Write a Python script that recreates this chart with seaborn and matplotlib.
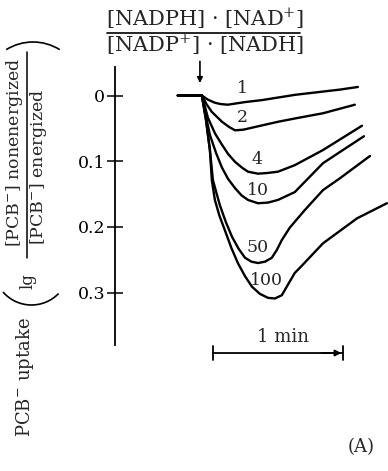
import matplotlib
matplotlib.use("Agg")
import matplotlib.pyplot as plt
import seaborn as sns
import pandas as pd
from matplotlib.patches import Arc
from matplotlib.lines import Line2D

# Time after energization (s) and PCB- uptake for each NADPH/NAD+ ratio
ratios = ["1", "2", "4", "10", "50", "100"]

t_1 = [-10.2, 0.9, 3.5, 6.9, 9.5, 12.9, 20.8, 28.6, 43.8, 56.8, 64.6, 72.9]
v_1 = [0.0, 0.0, 0.006, 0.011, 0.013, 0.014, 0.010, 0.007, -0.001, -0.006, -0.009, -0.013]

t_2 = [-10.2, 0.9, 3.0, 5.5, 10.2, 13.5, 16.2, 20.0, 24.0, 36.0, 43.8, 56.8, 71.5]
v_2 = [0.0, 0.0, 0.013, 0.025, 0.040, 0.048, 0.053, 0.052, 0.049, 0.040, 0.035, 0.027, 0.014]

t_4 = [-10.2, 0.9, 3.7, 7.0, 10.2, 13.0, 16.2, 19.5, 22.2, 26.8, 31.0, 36.0, 43.8, 56.8, 74.8]
v_4 = [0.0, 0.0, 0.034, 0.058, 0.075, 0.089, 0.101, 0.110, 0.116, 0.119, 0.118, 0.116, 0.106, 0.083, 0.046]

t_10 = [-10.2, 0.9, 2.8, 4.6, 7.5, 10.2, 13.0, 16.2, 19.2, 22.2, 26.8, 31.4, 36.0, 43.8, 50.0, 56.8, 66.0, 75.7]
v_10 = [0.0, 0.0, 0.032, 0.060, 0.088, 0.110, 0.127, 0.141, 0.152, 0.159, 0.164, 0.163, 0.159, 0.147, 0.126, 0.103, 0.083, 0.062]

t_50 = [-10.2, 0.9, 2.8, 4.6, 6.0, 9.2, 12.0, 14.8, 17.8, 20.8, 23.8, 26.8, 30.0, 33.2, 35.5, 37.8, 41.5, 48.5, 56.8, 64.6, 78.5]
v_50 = [0.0, 0.0, 0.037, 0.083, 0.129, 0.167, 0.193, 0.215, 0.233, 0.247, 0.253, 0.255, 0.253, 0.247, 0.235, 0.220, 0.201, 0.174, 0.144, 0.126, 0.092]

t_100 = [-10.2, 0.9, 2.8, 4.6, 5.5, 6.9, 9.0, 11.5, 14.5, 17.5, 20.8, 24.0, 27.7, 31.4, 34.6, 37.8, 40.6, 43.8, 46.2, 56.8, 72.5, 86.3]
v_100 = [0.0, 0.0, 0.037, 0.083, 0.129, 0.159, 0.183, 0.205, 0.232, 0.255, 0.275, 0.291, 0.302, 0.308, 0.309, 0.304, 0.288, 0.270, 0.262, 0.225, 0.187, 0.164]

y_ticks = [0, 0.1, 0.2, 0.3]
y_ticklabels = ["0", "0.1", "0.2", "0.3"]

series_t = [t_1, t_2, t_4, t_10, t_50, t_100]
series_v = [v_1, v_2, v_4, v_10, v_50, v_100]
rows = []
for r, ts, vs in zip(ratios, series_t, series_v):
    for t, v in zip(ts, vs):
        rows.append({"ratio": r, "t": t, "v": v})
df = pd.DataFrame(rows)

sns.set_style("white")
plt.rcParams["font.family"] = ["DejaVu Serif"]
plt.rcParams["mathtext.fontset"] = "dejavuserif"
plt.rcParams["lines.solid_joinstyle"] = "round"
plt.rcParams["lines.solid_capstyle"] = "round"

W, H = 388, 471
fig = plt.figure(figsize=(W / 100, H / 100), dpi=100)
fig.patch.set_facecolor("white")


def fx(x):
    return x / W


def fy(y):
    return 1 - y / H


ax = fig.add_axes([fx(115), fy(345), 273 / W, 278 / H])
ax.set_facecolor("white")

sns.lineplot(data=df, x="t", y="v", hue="ratio", hue_order=ratios,
             palette=["black"] * len(ratios), estimator=None, sort=False,
             legend=False, linewidth=1.7, ax=ax)
for line in ax.get_lines():
    line.set_solid_joinstyle("round")
    line.set_solid_capstyle("round")

ax.set_xlim(-39.2, 86.8)
ax.set_ylim(0.3798, -0.0434)
ax.set_xticks([])
ax.set_yticks(y_ticks)
ax.set_yticklabels(y_ticklabels)
ax.set_xlabel("")
ax.set_ylabel("")
for side in ["top", "right", "bottom"]:
    ax.spines[side].set_visible(False)
ax.spines["left"].set_color("black")
ax.spines["left"].set_linewidth(1.3)
ax.tick_params(axis="y", direction="inout", length=12, width=1.1,
               pad=1, labelsize=12.5, colors="black", left=True)

# Curve labels (ratio values)
label_pos = {"1": (19.8, -0.011), "2": (19.8, 0.034), "4": (26.3, 0.098),
             "10": (26.8, 0.144), "50": (26.8, 0.232), "100": (30.9, 0.281)}
for r in ratios:
    x, y = label_pos[r]
    ax.text(x, y, r, ha="center", va="center", fontsize=12.5)

# Energization marker
ax.annotate("", xy=(0, -0.019), xytext=(0, -0.052),
            arrowprops=dict(arrowstyle="-|>", lw=1.2, color="black",
                            mutation_scale=8, shrinkA=0, shrinkB=0),
            annotation_clip=False)

# Time scale bar: 1 min
ax.annotate("", xy=(66, 0.392), xytext=(6, 0.392),
            arrowprops=dict(arrowstyle="|-|, widthA=0.5, widthB=0.5", lw=1.3,
                            color="black", shrinkA=0, shrinkB=0),
            annotation_clip=False)
ax.annotate("", xy=(65.3, 0.392), xytext=(56, 0.392),
            arrowprops=dict(arrowstyle="-|>", lw=1.3, color="black",
                            mutation_scale=9, shrinkA=0, shrinkB=0),
            annotation_clip=False)
ax.text(38.3, 0.368, "1 min", ha="center", va="center", fontsize=13,
        clip_on=False)

# Ratio fraction above the plot
fig.text(fx(205), fy(19), "[NADPH] · [NAD$^{+}$]", ha="center", va="center",
         fontsize=15)
fig.add_artist(Line2D([fx(107), fx(300)], [fy(33), fy(33)], color="black",
                      lw=1.2))
fig.text(fx(205), fy(45), "[NADP$^{+}$] · [NADH]", ha="center", va="center",
         fontsize=15)

# Y axis label built from pieces
fig.text(fx(25), fy(377), "PCB$^{-}$ uptake", rotation=90, ha="center",
         va="center", fontsize=13)
fig.text(fx(28), fy(281), "lg", rotation=90, ha="center", va="center",
         fontsize=12)
fig.text(fx(15), fy(152), "[PCB$^{-}$] nonenergized", rotation=90,
         ha="center", va="center", fontsize=12.5)
fig.add_artist(Line2D([fx(27), fx(27)], [fy(258), fy(52)], color="black",
                      lw=1.1))
fig.text(fx(39), fy(167), "[PCB$^{-}$] energized", rotation=90, ha="center",
         va="center", fontsize=12.5)
fig.add_artist(Arc((31.5 / 100, 203.7 / 100), 2 * 0.377, 2 * 0.377,
                   theta1=221, theta2=316, transform=fig.dpi_scale_trans,
                   color="black", lw=1.2))
fig.add_artist(Arc((33 / 100, 378.5 / 100), 2 * 0.505, 2 * 0.505,
                   theta1=58, theta2=122, transform=fig.dpi_scale_trans,
                   color="black", lw=1.2))

fig.text(fx(361), fy(447), "(A)", ha="center", va="center", fontsize=13)

fig.savefig("out.png", dpi=100)
